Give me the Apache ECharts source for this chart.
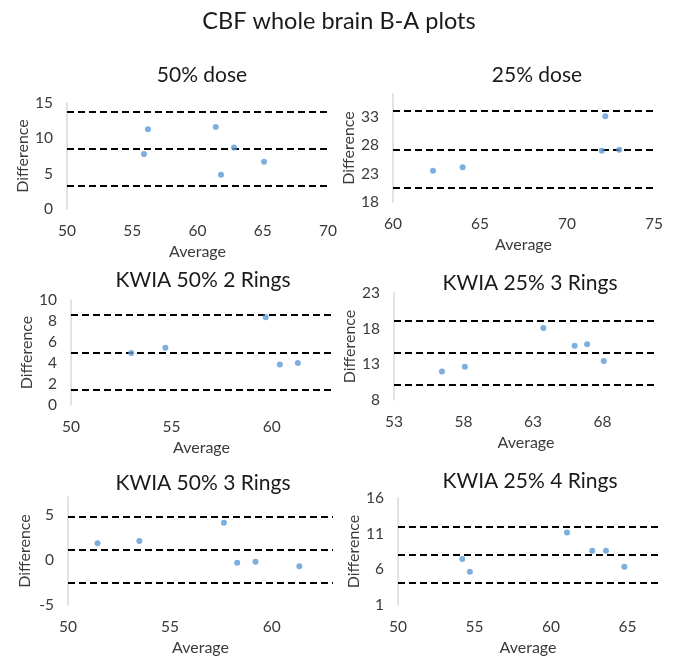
<!DOCTYPE html>
<html><head><meta charset="utf-8">
<script src="https://cdn.jsdelivr.net/npm/echarts@6/dist/echarts.min.js"></script>
<style>html,body{margin:0;padding:0;background:#fff}#c{width:673px;height:660px}</style>
</head><body><div id="c"></div>
<script>
const mainTitle = 'CBF whole brain B-A plots';
const panelTitles = ['50% dose', '25% dose', 'KWIA 50% 2 Rings', 'KWIA 25% 3 Rings', 'KWIA 50% 3 Rings', 'KWIA 25% 4 Rings'];
const xName = 'Average';
const yName = 'Difference';

// 50% dose
const avg1 = [56.2, 55.9, 61.4, 62.8, 61.8, 65.1];
const diff1 = [11.3, 7.8, 11.6, 8.7, 4.85, 6.7];
const limits1 = [13.7, 8.5, 3.3];
const xTicks1 = [50, 55, 60, 65, 70];
const yTicks1 = [0, 5, 10, 15];
const xRange1 = [50, 70];
const yRange1 = [0, 15];

// 25% dose
const avg2 = [62.3, 64.0, 72.0, 72.2, 73.0];
const diff2 = [23.5, 24.1, 27.0, 33.1, 27.2];
const limits2 = [34.0, 27.2, 20.5];
const xTicks2 = [60, 65, 70, 75];
const yTicks2 = [18, 23, 28, 33];
const xRange2 = [60, 75];
const yRange2 = [18, 37];

// KWIA 50% 2 Rings
const avg3 = [53.0, 54.7, 59.7, 60.4, 61.3];
const diff3 = [4.95, 5.45, 8.35, 3.85, 4.0];
const limits3 = [8.55, 5.0, 1.45];
const xTicks3 = [50, 55, 60];
const yTicks3 = [0, 2, 4, 6, 8, 10];
const xRange3 = [50, 63];
const yRange3 = [0, 10];

// KWIA 25% 3 Rings
const avg4 = [56.45, 58.1, 63.75, 66.0, 66.9, 68.1];
const diff4 = [12.0, 12.65, 18.1, 15.6, 15.8, 13.45];
const limits4 = [19.15, 14.6, 10.1];
const xTicks4 = [53, 58, 63, 68];
const yTicks4 = [8, 13, 18, 23];
const xRange4 = [53, 72];
const yRange4 = [8, 23];

// KWIA 50% 3 Rings
const avg5 = [51.45, 53.5, 57.65, 58.3, 59.2, 61.35];
const diff5 = [1.85, 2.1, 4.15, -0.3, -0.2, -0.7];
const limits5 = [4.8, 1.15, -2.5];
const xTicks5 = [50, 55, 60];
const yTicks5 = [-5, 0, 5];
const xRange5 = [50, 63];
const yRange5 = [-5, 7];

// KWIA 25% 4 Rings
const avg6 = [54.2, 54.7, 61.05, 62.7, 63.6, 64.8];
const diff6 = [7.45, 5.65, 11.15, 8.6, 8.6, 6.35];
const limits6 = [11.95, 8.0, 4.1];
const xTicks6 = [50, 55, 60, 65];
const yTicks6 = [1, 6, 11, 16];
const xRange6 = [50, 67];
const yRange6 = [1, 16];

const panels = [
  {avg: avg1, diff: diff1, lim: limits1, xt: xTicks1, yt: yTicks1, xr: xRange1, yr: yRange1},
  {avg: avg2, diff: diff2, lim: limits2, xt: xTicks2, yt: yTicks2, xr: xRange2, yr: yRange2},
  {avg: avg3, diff: diff3, lim: limits3, xt: xTicks3, yt: yTicks3, xr: xRange3, yr: yRange3},
  {avg: avg4, diff: diff4, lim: limits4, xt: xTicks4, yt: yTicks4, xr: xRange4, yr: yRange4},
  {avg: avg5, diff: diff5, lim: limits5, xt: xTicks5, yt: yTicks5, xr: xRange5, yr: yRange5},
  {avg: avg6, diff: diff6, lim: limits6, xt: xTicks6, yt: yTicks6, xr: xRange6, yr: yRange6}
];

// layout (pixels)
const layout = [
  {left: 67, top: 103, width: 261, height: 106, tx: 202, ty: 77},
  {left: 393, top: 94, width: 261, height: 108, tx: 537, ty: 77},
  {left: 71, top: 300, width: 261, height: 105, tx: 203, ty: 282},
  {left: 394, top: 293, width: 264, height: 107, tx: 530, ty: 285},
  {left: 68, top: 497, width: 265, height: 108, tx: 203, ty: 485},
  {left: 398, top: 498, width: 260, height: 107, tx: 530, ty: 483}
];

const FONT = 'Lato, "Open Sans", sans-serif';
const labelColor = '#3a3a3a';

const option = {
  backgroundColor: '#fff',
  animation: false,
  title: [{
    text: mainTitle, left: 339, top: 9, textAlign: 'center', padding: 0,
    textStyle: {fontFamily: FONT, fontSize: 23.5, fontWeight: 'normal', color: '#1a1a1a'}
  }].concat(panelTitles.map((t, i) => ({
    text: t, left: layout[i].tx, top: layout[i].ty - 12, textAlign: 'center', padding: 0,
    textStyle: {fontFamily: FONT, fontSize: 21, fontWeight: 'normal', color: '#1a1a1a'}
  }))),
  grid: layout.map(l => ({left: l.left, top: l.top, width: l.width, height: l.height, containLabel: false})),
  xAxis: panels.map((p, i) => ({
    gridIndex: i, type: 'value', min: p.xr[0], max: p.xr[1],
    interval: p.xt[1] - p.xt[0],
    name: xName, nameLocation: 'middle', nameGap: 35,
    nameTextStyle: {fontFamily: FONT, fontSize: 16, color: labelColor},
    axisLine: {show: false}, axisTick: {show: false}, splitLine: {show: false},
    axisLabel: {
      fontFamily: FONT, fontSize: 15.5, color: labelColor, margin: 14,
      showMinLabel: true, showMaxLabel: true,
      formatter: v => (p.xt.some(t => Math.abs(t - v) < 1e-6) ? String(v) : '')
    }
  })),
  yAxis: panels.map((p, i) => ({
    gridIndex: i, type: 'value', min: p.yr[0], max: p.yr[1],
    interval: p.yt[1] - p.yt[0],
    name: yName, nameLocation: 'middle', nameGap: 35, nameRotate: 90,
    nameTextStyle: {fontFamily: FONT, fontSize: 16, color: labelColor},
    axisLine: {show: true, onZero: false, lineStyle: {color: '#d9d9d9', width: 1.5}},
    axisTick: {show: false}, splitLine: {show: false},
    axisLabel: {
      fontFamily: FONT, fontSize: 15.5, color: labelColor, margin: 14,
      showMinLabel: true, showMaxLabel: true,
      formatter: v => (p.yt.some(t => Math.abs(t - v) < 1e-6) ? String(v) : '')
    }
  })),
  series: panels.map((p, i) => ({
    type: 'scatter', xAxisIndex: i, yAxisIndex: i,
    symbolSize: 6,
    itemStyle: {color: '#5b9bd5'},
    data: p.avg.map((a, j) => [a, p.diff[j]]),
    z: 3,
    markLine: {
      silent: true, symbol: ['none', 'none'], label: {show: false},
      lineStyle: {color: '#000', type: [7, 4], width: 2},
      data: p.lim.map(v => ({yAxis: v})),
      z: 2
    }
  }))
};

const chart = echarts.init(document.getElementById('c'), null, {renderer: 'canvas'});
chart.setOption(option);
</script>
</body></html>
